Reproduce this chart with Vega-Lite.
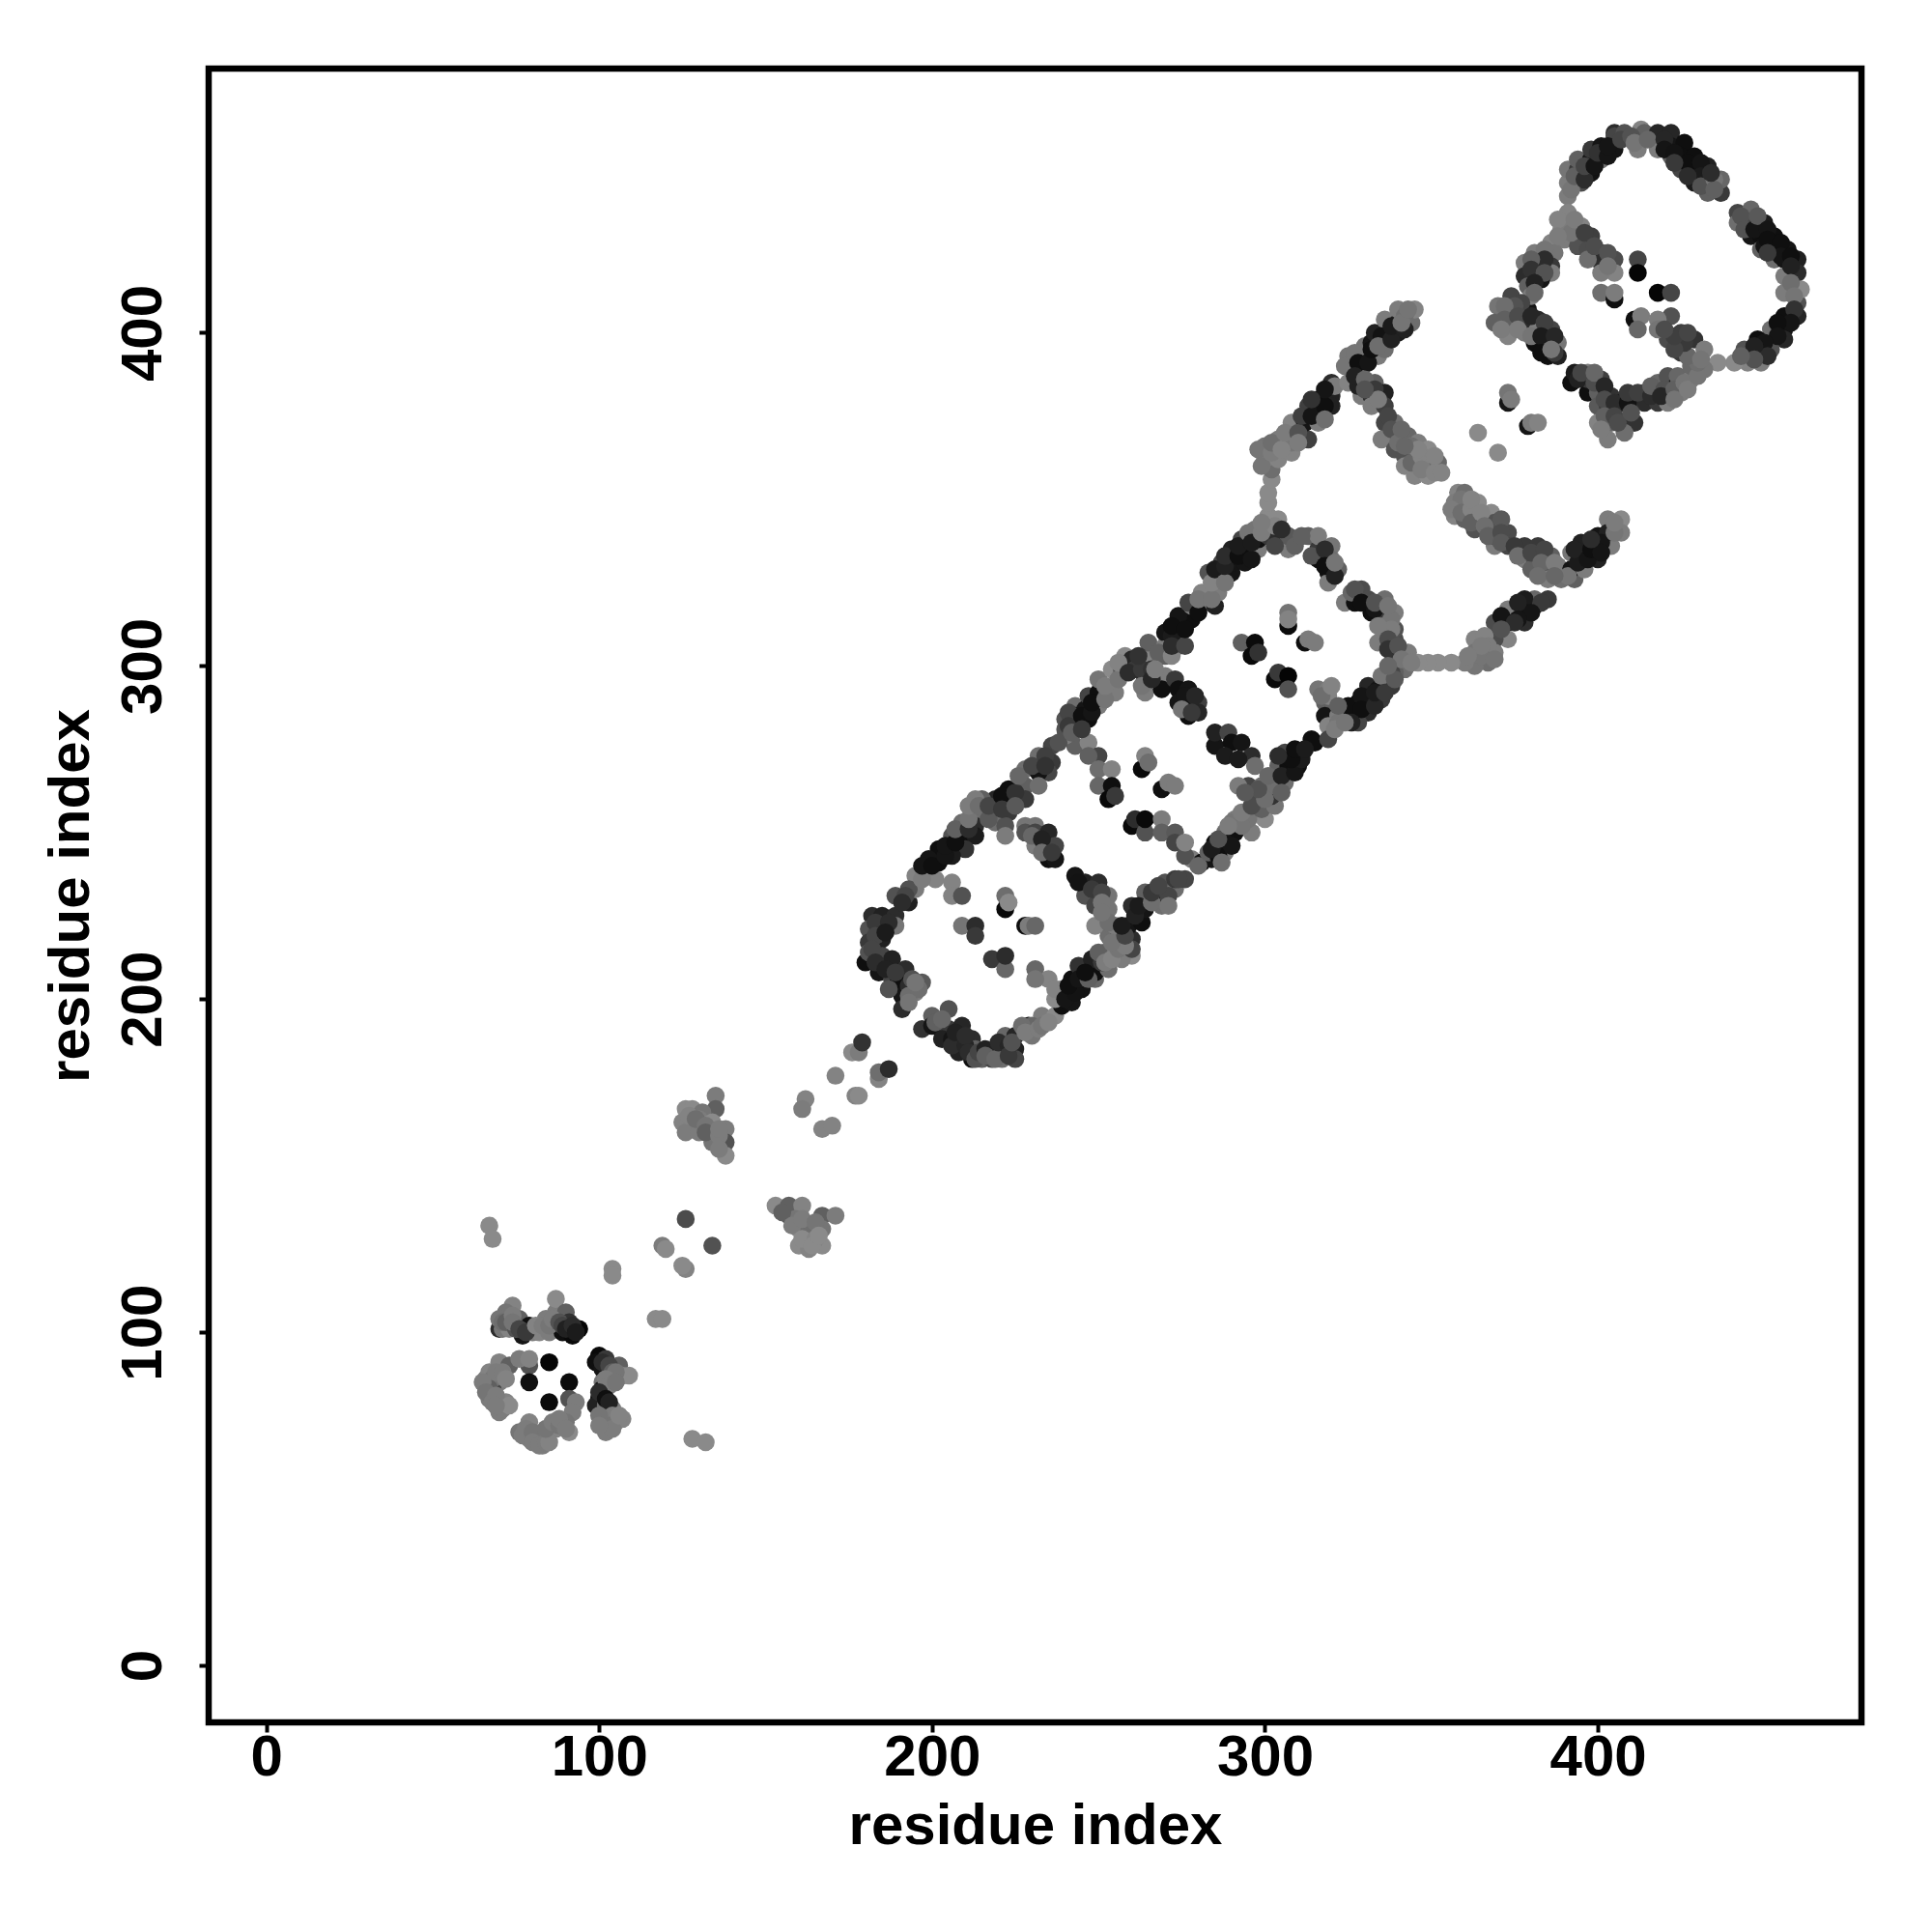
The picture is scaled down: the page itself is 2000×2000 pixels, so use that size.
{"$schema":"https://vega.github.io/schema/vega-lite/v6.json","autosize":"none","padding":{"left":216,"top":71,"right":73,"bottom":217},"width":1711,"height":1712,"background":"white","config":{"view":{"stroke":"black","strokeWidth":6.5},"font":"Liberation Sans"},
"data":{"values":[
{"i":67,"j":132,"s":1},{"i":68,"j":128,"s":1},{"i":135,"j":171,"s":0.9},{"i":135,"j":167,"s":0.7},{"i":126,"j":167,"s":1},{"i":128,"j":167,"s":1},{"i":131,"j":166,"s":0.85},{"i":125,"j":163,"s":0.95},{"i":126,"j":160,"s":0.9},{"i":130,"j":164,"s":0.9},{"i":130,"j":160,"s":0.9},{"i":134,"j":163,"s":1},{"i":134,"j":160,"s":0.85},{"i":138,"j":161,"s":0.9},{"i":134,"j":157,"s":0.85},{"i":138,"j":157,"s":0.6},{"i":138,"j":153,"s":1},
{"i":126,"j":134,"s":0.55},{"i":134,"j":126,"s":0.6},{"i":119,"j":126,"s":0.9},{"i":120,"j":125,"s":1},{"i":126,"j":119,"s":0.95},{"i":125,"j":120,"s":1},{"i":104,"j":119,"s":1},{"i":104,"j":117,"s":1},{"i":117,"j":104,"s":1},{"i":119,"j":104,"s":1},{"i":128,"j":68,"s":1},{"i":132,"j":67,"s":1},
{"i":153,"j":138,"s":1},{"i":157,"j":135,"s":0.65},{"i":157,"j":138,"s":0.7},{"i":161,"j":138,"s":0.95},{"i":159,"j":134,"s":0.85},{"i":167,"j":135,"s":0.7},{"i":171,"j":135,"s":0.9},{"i":160,"j":131,"s":1},{"i":163,"j":131,"s":0.8},{"i":167,"j":131,"s":0.85},{"i":160,"j":126,"s":1},{"i":163,"j":125,"s":0.95},{"i":167,"j":126,"s":1},
{"i":176,"j":184,"s":1},{"i":178,"j":184,"s":0.9},{"i":179,"j":187,"s":0.35},{"i":171,"j":177,"s":0.95},{"i":184,"j":176,"s":0.95},{"i":184,"j":178,"s":0.8},{"i":187,"j":179,"s":0.3},{"i":177,"j":171,"s":0.95},{"i":178,"j":171,"s":1},{"i":162,"j":170,"s":0.95},{"i":161,"j":167,"s":0.9},{"i":167,"j":161,"s":0.95},{"i":170,"j":162,"s":0.95},
{"i":74,"j":108,"s":0.95},{"i":72,"j":106,"s":0.85},{"i":70,"j":101,"s":0.3},{"i":70,"j":104,"s":0.85},{"i":71,"j":101,"s":0.85},{"i":73,"j":101,"s":0.95},{"i":76,"j":104,"s":0.7},{"i":77,"j":99,"s":0.1},{"i":79,"j":102,"s":0.05},{"i":80,"j":100,"s":0.9},{"i":82,"j":100,"s":0.95},{"i":84,"j":104,"s":0.9},{"i":85,"j":100,"s":0.9},{"i":87,"j":106,"s":0.9},{"i":87,"j":110,"s":1},{"i":89,"j":100,"s":0.05},{"i":90,"j":106,"s":0.7},{"i":91,"j":103,"s":0.35},{"i":92,"j":99,"s":0.02},{"i":94,"j":101,"s":0},
{"i":100,"j":93,"s":0.02},{"i":99,"j":91,"s":0.05},{"i":101,"j":89,"s":0.1},{"i":102,"j":92,"s":0.4},{"i":106,"j":90,"s":0.7},{"i":101,"j":85,"s":0.85},{"i":104,"j":86,"s":0.9},{"i":107,"j":87,"s":0.95},{"i":109,"j":87,"s":1},{"i":101,"j":83,"s":0.1},{"i":100,"j":80,"s":0.02},{"i":99,"j":78,"s":0.2},{"i":102,"j":78,"s":0.8},{"i":104,"j":77,"s":0.9},{"i":101,"j":73,"s":0.9},{"i":102,"j":70,"s":0.9},{"i":105,"j":73,"s":0.95},{"i":107,"j":74,"s":0.95},
{"i":70,"j":91,"s":0.95},{"i":73,"j":90,"s":0.7},{"i":66,"j":86,"s":0.9},{"i":66,"j":84,"s":0.9},{"i":70,"j":85,"s":0.9},{"i":68,"j":83,"s":0.5},{"i":67,"j":80,"s":0.9},{"i":70,"j":76,"s":0.9},{"i":72,"j":79,"s":0.95},{"i":79,"j":90,"s":0.6},{"i":76,"j":92,"s":0.9},{"i":79,"j":92,"s":0.95},{"i":79,"j":85,"s":0.05},{"i":85,"j":91,"s":0},{"i":91,"j":85,"s":0.03},{"i":85,"j":79,"s":0.03},{"i":91,"j":80,"s":0.6},{"i":93,"j":79,"s":0.9},{"i":92,"j":76,"s":0.9},
{"i":76,"j":70,"s":0.85},{"i":79,"j":73,"s":0.95},{"i":79,"j":68,"s":0.95},{"i":81,"j":67,"s":0.9},{"i":83,"j":66,"s":0.9},{"i":82,"j":69,"s":0.85},{"i":85,"j":70,"s":0.9},{"i":87,"j":71,"s":0.95},{"i":90,"j":73,"s":0.85},{"i":91,"j":70,"s":1},
{"i":182,"j":225,"s":0.3},{"i":185,"j":225,"s":0.2},{"i":189,"j":225,"s":0.3},{"i":189,"j":222,"s":0.85},{"i":181,"j":221,"s":0.6},{"i":185,"j":221,"s":0.05},{"i":185,"j":218,"s":0.2},{"i":181,"j":217,"s":0.4},{"i":180,"j":211,"s":0.05},{"i":181,"j":214,"s":0.6},{"i":185,"j":213,"s":0.5},{"i":188,"j":212,"s":0.2},{"i":184,"j":208,"s":0.1},{"i":192,"j":209,"s":0.3},{"i":188,"j":206,"s":0.5},{"i":190,"j":205,"s":0.05},{"i":191,"j":201,"s":0.1},{"i":197,"j":205,"s":0.65},{"i":195,"j":202,"s":0.9},{"i":191,"j":197,"s":0.3},
{"i":197,"j":191,"s":0.35},{"i":202,"j":192,"s":0.05},{"i":200,"j":195,"s":0.7},{"i":203,"j":191,"s":0.1},{"i":205,"j":197,"s":0.6},{"i":205,"j":191,"s":0.4},{"i":209,"j":192,"s":0.25},{"i":208,"j":186,"s":0.1},{"i":212,"j":188,"s":0.3},{"i":208,"j":184,"s":0.2},{"i":213,"j":185,"s":0.7},{"i":212,"j":182,"s":0.05},{"i":215,"j":182,"s":0.7},{"i":218,"j":184,"s":0.3},{"i":218,"j":182,"s":0.5},{"i":222,"j":189,"s":0.75},{"i":221,"j":184,"s":0.05},{"i":221,"j":182,"s":0.8},{"i":225,"j":189,"s":0.25},{"i":225,"j":185,"s":0.2},{"i":225,"j":182,"s":0.5},
{"i":229,"j":192,"s":0.05},{"i":230,"j":189,"s":0.85},{"i":233,"j":195,"s":0.9},{"i":237,"j":195,"s":1},{"i":230,"j":192,"s":0.75},{"i":239,"j":198,"s":0.05},{"i":242,"j":199,"s":0.1},{"i":237,"j":200,"s":1},{"i":239,"j":203,"s":0.9},{"i":242,"j":206,"s":0.05},{"i":245,"j":203,"s":0.08},{"i":249,"j":206,"s":0.75},{"i":244,"j":210,"s":0.35},{"i":249,"j":208,"s":0.05},{"i":248,"j":212,"s":0.2},{"i":253,"j":209,"s":0.8},{"i":252,"j":214,"s":0.6},{"i":255,"j":215,"s":0.9},{"i":260,"j":213,"s":1},{"i":257,"j":212,"s":0.9},{"i":253,"j":219,"s":0.8},{"i":256,"j":219,"s":0.6},{"i":260,"j":218,"s":0.3},{"i":260,"j":215,"s":0.5},{"i":255,"j":222,"s":0.9},{"i":259,"j":222,"s":0.1},{"i":263,"j":223,"s":0.05},{"i":260,"j":228,"s":0.3},{"i":264,"j":227,"s":0.1},{"i":264,"j":232,"s":0.7},{"i":269,"j":228,"s":0.8},{"i":269,"j":231,"s":0.1},{"i":270,"j":235,"s":0.6},{"i":273,"j":233,"s":0.8},{"i":273,"j":236,"s":0.4},{"i":276,"j":236,"s":0.5},
{"i":278,"j":242,"s":0.9},{"i":281,"j":241,"s":0.05},{"i":284,"j":242,"s":0.1},{"i":285,"j":247,"s":0.05},{"i":288,"j":244,"s":0.9},{"i":288,"j":250,"s":0.8},{"i":291,"j":250,"s":0.05},{"i":288,"j":247,"s":0.1},{"i":296,"j":250,"s":0.9},{"i":300,"j":254,"s":1},{"i":291,"j":254,"s":0.9},{"i":295,"j":254,"s":0.85},{"i":299,"j":257,"s":0.7},{"i":303,"j":258,"s":0.85},{"i":302,"j":261,"s":0.35},{"i":297,"j":261,"s":0.55},{"i":295,"j":264,"s":0.5},{"i":292,"j":264,"s":0.9},{"i":299,"j":264,"s":0.8},{"i":303,"j":264,"s":0.8},{"i":306,"j":265,"s":0.8},{"i":304,"j":270,"s":0.7},{"i":307,"j":270,"s":0.05},{"i":310,"j":270,"s":0.05},{"i":310,"j":274,"s":0.05},{"i":306,"j":274,"s":0.5},{"i":314,"j":278,"s":0.05},
{"i":285,"j":276,"s":0.1},{"i":285,"j":280,"s":0.2},{"i":289,"j":280,"s":0.5},{"i":290,"j":277,"s":0.05},{"i":293,"j":277,"s":0.1},{"i":288,"j":273,"s":0.15},{"i":296,"j":273,"s":0.3},{"i":292,"j":272,"s":0.15},{"i":297,"j":270,"s":0.8},
{"i":236,"j":271,"s":0.4},{"i":236,"j":276,"s":0.5},{"i":232,"j":273,"s":0.8},{"i":235,"j":268,"s":0.5},{"i":228,"j":269,"s":0.8},{"i":232,"j":268,"s":0.08},{"i":228,"j":264,"s":0.7},{"i":232,"j":264,"s":0.8},{"i":228,"j":260,"s":0.4},{"i":223,"j":259,"s":0.15},{"i":223,"j":263,"s":0.05},{"i":223,"j":256,"s":0.4},{"i":219,"j":260,"s":0.25},{"i":215,"j":260,"s":0.7},{"i":213,"j":260,"s":0.9},{"i":213,"j":256,"s":0.9},{"i":215,"j":256,"s":0.8},{"i":219,"j":256,"s":0.5},{"i":219,"j":253,"s":0.8},{"i":222,"j":252,"s":0.6},{"i":222,"j":249,"s":0.9},{"i":209,"j":253,"s":0.8},{"i":209,"j":249,"s":0.05},{"i":213,"j":252,"s":0.3},{"i":213,"j":249,"s":0.15},{"i":206,"j":249,"s":0.6},{"i":210,"j":245,"s":0.35},{"i":206,"j":243,"s":0.15},{"i":202,"j":245,"s":0.05},{"i":202,"j":241,"s":0.05},{"i":199,"j":242,"s":0.1},{"i":199,"j":238,"s":0.25},{"i":195,"j":237,"s":0.95},{"i":201,"j":236,"s":0.95},{"i":206,"j":235,"s":0.95},{"i":206,"j":231,"s":0.95},{"i":209,"j":231,"s":0.6},{"i":193,"j":229,"s":0.2},{"i":195,"j":233,"s":0.9},{"i":193,"j":233,"s":0.6},{"i":189,"j":231,"s":0.6},
{"i":228,"j":252,"s":0.85},{"i":231,"j":252,"s":0.85},{"i":228,"j":250,"s":0.6},{"i":231,"j":250,"s":0.5},{"i":235,"j":250,"s":0.25},{"i":231,"j":246,"s":0.9},{"i":235,"j":242,"s":0.05},{"i":237,"j":242,"s":0.1},{"i":237,"j":246,"s":0.5},
{"i":243,"j":237,"s":0.1},{"i":246,"j":235,"s":0.2},{"i":250,"j":235,"s":0.3},{"i":246,"j":231,"s":0.6},{"i":253,"j":231,"s":0.85},{"i":249,"j":228,"s":0.5},{"i":253,"j":227,"s":0.85},{"i":249,"j":222,"s":0.95},{"i":253,"j":223,"s":0.8},
{"i":222,"j":231,"s":0.8},{"i":222,"j":227,"s":0.02},{"i":223,"j":229,"s":1},{"i":228,"j":222,"s":0.05},{"i":229,"j":222,"s":0.9},{"i":231,"j":222,"s":0.75},{"i":209,"j":222,"s":0.85},{"i":213,"j":222,"s":0.3},{"i":213,"j":219,"s":0.4},{"i":218,"j":212,"s":0.4},{"i":222,"j":209,"s":0.75},{"i":222,"j":213,"s":0.3},{"i":231,"j":209,"s":0.75},{"i":235,"j":206,"s":0.95},{"i":231,"j":206,"s":0.85},{"i":237,"j":203,"s":0.95},
{"i":243,"j":276,"s":0.7},{"i":247,"j":277,"s":0.95},{"i":250,"j":273,"s":0.5},{"i":247,"j":273,"s":0.7},{"i":250,"j":269,"s":0.8},{"i":254,"j":269,"s":0.95},{"i":250,"j":264,"s":0.75},{"i":254,"j":264,"s":0.05},{"i":253,"j":260,"s":0.02},{"i":255,"j":261,"s":0.4},
{"i":263,"j":269,"s":0.02},{"i":264,"j":273,"s":0.95},{"i":265,"j":271,"s":0.8},{"i":269,"j":263,"s":0.05},{"i":271,"j":265,"s":0.9},{"i":273,"j":264,"s":0.9},{"i":260,"j":252,"s":0.02},{"i":261,"j":254,"s":0.3},{"i":264,"j":250,"s":0.6},{"i":264,"j":254,"s":0.02},{"i":269,"j":254,"s":0.9},{"i":269,"j":250,"s":0.7},{"i":273,"j":250,"s":0.65},{"i":273,"j":247,"s":0.5},{"i":276,"j":243,"s":0.6},{"i":276,"j":247,"s":0.95},
{"i":240,"j":279,"s":0.9},{"i":240,"j":284,"s":0.6},{"i":240,"j":281,"s":0.6},{"i":243,"j":288,"s":0.8},{"i":243,"j":285,"s":0.03},{"i":244,"j":282,"s":0.1},{"i":247,"j":284,"s":0.05},{"i":246,"j":287,"s":0.1},{"i":247,"j":291,"s":0.5},{"i":250,"j":288,"s":0.9},{"i":250,"j":292,"s":0.05},{"i":250,"j":296,"s":0.85},{"i":255,"j":292,"s":0.9},{"i":254,"j":299,"s":1},{"i":257,"j":299,"s":0.6},{"i":258,"j":303,"s":1},{"i":260,"j":302,"s":0.25},{"i":261,"j":299,"s":0.4},{"i":264,"j":296,"s":0.3},{"i":264,"j":292,"s":0.9},{"i":265,"j":302,"s":0.95},{"i":265,"j":307,"s":0.7},{"i":270,"j":297,"s":0.9},{"i":269,"j":293,"s":0.05},{"i":273,"j":296,"s":0.4},{"i":274,"j":293,"s":0.05},{"i":277,"j":293,"s":0.1},{"i":274,"j":289,"s":0.1},{"i":280,"j":289,"s":0.45},{"i":276,"j":288,"s":0.1},{"i":277,"j":285,"s":0.05},{"i":280,"j":286,"s":0.25},{"i":270,"j":306,"s":0.9},{"i":274,"j":307,"s":0.6},{"i":270,"j":310,"s":0.1},{"i":274,"j":310,"s":0.1},
{"i":274,"j":306,"s":0.6},{"i":270,"j":305,"s":0.9},{"i":270,"j":303,"s":0.7},{"i":278,"j":314,"s":0.05},{"i":274,"j":315,"s":0.1},{"i":278,"j":318,"s":0.9},{"i":277,"j":319,"s":0.5},{"i":282,"j":319,"s":0.95},{"i":281,"j":322,"s":0.95},{"i":285,"j":318,"s":0.2},{"i":286,"j":322,"s":0.9},{"i":283,"j":328,"s":0.6},{"i":287,"j":327,"s":0.15},{"i":290,"j":328,"s":0.1},{"i":287,"j":331,"s":0.5},{"i":290,"j":331,"s":0.1},{"i":294,"j":331,"s":0.1},{"i":290,"j":335,"s":0.2},{"i":294,"j":334,"s":0.05},{"i":293,"j":338,"s":0.5},{"i":298,"j":335,"s":0.9},{"i":298,"j":338,"s":0.05},{"i":297,"j":341,"s":0.85},{"i":300,"j":342,"s":0.95},{"i":304,"j":344,"s":1},{"i":301,"j":345,"s":1},{"i":301,"j":349,"s":1},{"i":301,"j":352,"s":1},{"i":302,"j":356,"s":1},{"i":302,"j":359,"s":0.8},{"i":300,"j":362,"s":0.9},{"i":300,"j":366,"s":0.85},{"i":304,"j":368,"s":0.9},{"i":304,"j":362,"s":0.95},{"i":308,"j":364,"s":0.95},{"i":308,"j":367,"s":0.85},{"i":308,"j":373,"s":0.95},{"i":313,"j":368,"s":0.45},{"i":313,"j":378,"s":0.45},{"i":312,"j":373,"s":0.1},{"i":316,"j":373,"s":0.9},{"i":316,"j":380,"s":0.05},{"i":316,"j":376,"s":0.15},{"i":320,"j":381,"s":0.2},{"i":320,"j":378,"s":0.2},{"i":320,"j":385,"s":0.3},{"i":321,"j":384,"s":0.9},
{"i":325,"j":385,"s":0.95},{"i":325,"j":393,"s":0.85},{"i":326,"j":389,"s":0.85},{"i":330,"j":393,"s":0.05},{"i":330,"j":396,"s":0.85},{"i":329,"j":389,"s":0.85},{"i":329,"j":381,"s":0.9},{"i":328,"j":384,"s":0.2},{"i":333,"j":385,"s":0.7},{"i":332,"j":397,"s":0.1},{"i":333,"j":400,"s":0.2},{"i":336,"j":399,"s":0.03},{"i":336,"j":404,"s":0.9},{"i":334,"j":393,"s":0.9},{"i":336,"j":395,"s":0.8},{"i":336,"j":382,"s":0.2},{"i":332,"j":381,"s":0.3},{"i":332,"j":378,"s":0.9},{"i":336,"j":378,"s":0.45},{"i":340,"j":400,"s":0.15},{"i":340,"j":403,"s":0.2},{"i":340,"j":407,"s":0.9},{"i":344,"j":403,"s":0.8},{"i":345,"j":407,"s":0.95},
{"i":336,"j":373,"s":0.5},{"i":335,"j":368,"s":0.9},{"i":339,"j":373,"s":0.8},{"i":339,"j":369,"s":0.9},{"i":343,"j":369,"s":0.75},{"i":346,"j":367,"s":0.9},{"i":339,"j":365,"s":0.6},{"i":342,"j":363,"s":0.6},{"i":342,"j":360,"s":0.95},{"i":345,"j":357,"s":0.95},{"i":349,"j":365,"s":1},{"i":349,"j":361,"s":0.95},{"i":349,"j":357,"s":1},{"i":352,"j":361,"s":0.75},
{"i":358,"j":352,"s":0.95},{"i":360,"j":352,"s":0.8},{"i":357,"j":349,"s":0.9},{"i":360,"j":348,"s":0.9},{"i":357,"j":345,"s":0.95},{"i":364,"j":349,"s":1},{"i":360,"j":344,"s":0.7},{"i":364,"j":344,"s":0.85},{"i":368,"j":346,"s":1},{"i":363,"j":341,"s":0.6},{"i":369,"j":343,"s":0.6},{"i":369,"j":336,"s":0.9},{"i":373,"j":340,"s":0.55},{"i":369,"j":339,"s":0.6},{"i":373,"j":336,"s":0.5},{"i":378,"j":336,"s":0.4},{"i":378,"j":332,"s":0.9},{"i":382,"j":336,"s":0.4},{"i":381,"j":332,"s":0.6},{"i":386,"j":333,"s":0.7},{"i":385,"j":329,"s":0.65},{"i":380,"j":329,"s":0.7},{"i":388,"j":330,"s":0.9},{"i":385,"j":326,"s":0.9},{"i":389,"j":326,"s":0.8},{"i":393,"j":326,"s":0.7},{"i":392,"j":329,"s":0.1},{"i":392,"j":334,"s":0.85},{"i":396,"j":329,"s":0.9},{"i":396,"j":334,"s":0.1},{"i":395,"j":337,"s":0.2},{"i":399,"j":336,"s":0.03},{"i":399,"j":334,"s":0.7},{"i":400,"j":339,"s":0.1},{"i":400,"j":332,"s":0.2},{"i":403,"j":344,"s":0.9},{"i":404,"j":336,"s":0.9},{"i":403,"j":340,"s":0.2},{"i":407,"j":344,"s":1},{"i":407,"j":340,"s":0.9},
{"i":381,"j":318,"s":0.05},{"i":381,"j":320,"s":0.75},{"i":385,"j":320,"s":0.4},{"i":378,"j":320,"s":0.15},{"i":378,"j":316,"s":0.1},{"i":375,"j":317,"s":0.1},{"i":373,"j":317,"s":0.9},{"i":378,"j":313,"s":0.3},{"i":373,"j":313,"s":0.05},{"i":369,"j":313,"s":0.55},{"i":373,"j":308,"s":0.95},{"i":369,"j":308,"s":0.55},{"i":363,"j":308,"s":0.95},{"i":366,"j":309,"s":0.95},{"i":369,"j":304,"s":0.9},{"i":363,"j":304,"s":0.85},{"i":367,"j":301,"s":0.8},{"i":363,"j":300,"s":0.85},{"i":360,"j":301,"s":0.9},{"i":356,"j":301,"s":1},{"i":352,"j":301,"s":1},{"i":349,"j":301,"s":1},{"i":346,"j":301,"s":1},{"i":343,"j":304,"s":0.9},{"i":342,"j":299,"s":0.8},{"i":339,"j":298,"s":0.7},{"i":339,"j":308,"s":0.55},{"i":339,"j":304,"s":0.4},{"i":339,"j":311,"s":0.6},{"i":334,"j":307,"s":0.9},
{"i":301,"j":339,"s":0.4},{"i":304,"j":339,"s":0.3},{"i":307,"j":335,"s":0.9},{"i":307,"j":339,"s":0.65},{"i":313,"j":339,"s":0.7},{"i":316,"j":332,"s":0.05},{"i":316,"j":335,"s":0.4},{"i":316,"j":339,"s":0.9},{"i":320,"j":336,"s":0.85},{"i":320,"j":332,"s":0.8},{"i":319,"j":328,"s":0.1},{"i":319,"j":325,"s":0.9},{"i":322,"j":329,"s":0.7},{"i":329,"j":323,"s":0.55},{"i":324,"j":319,"s":0.9},{"i":327,"j":319,"s":0.05},{"i":331,"j":320,"s":0.55},{"i":336,"j":320,"s":0.8},{"i":332,"j":316,"s":0.05},{"i":335,"j":316,"s":0.4},{"i":339,"j":316,"s":0.9},{"i":336,"j":312,"s":0.9},
{"i":307,"j":312,"s":0.03},{"i":307,"j":316,"s":0.85},{"i":307,"j":314,"s":0.95},{"i":293,"j":307,"s":0.7},{"i":296,"j":303,"s":0.02},{"i":297,"j":307,"s":0.03},{"i":298,"j":304,"s":0.35},{"i":312,"j":307,"s":0.05},{"i":313,"j":308,"s":0.9},{"i":315,"j":307,"s":0.9},{"i":303,"j":296,"s":0.03},{"i":304,"j":298,"s":0.4},{"i":307,"j":297,"s":0},{"i":307,"j":293,"s":0.6},
{"i":316,"j":293,"s":0.85},{"i":319,"j":293,"s":0.9},{"i":318,"j":289,"s":0.7},{"i":319,"j":291,"s":0.95},{"i":318,"j":285,"s":0.1},{"i":322,"j":285,"s":0.9},{"i":319,"j":282,"s":0.95},{"i":322,"j":283,"s":0.85},{"i":328,"j":289,"s":0.05},{"i":331,"j":294,"s":0.25},{"i":331,"j":290,"s":0.05},{"i":327,"j":286,"s":0.1},{"i":331,"j":286,"s":0.3},{"i":328,"j":283,"s":0.5},{"i":335,"j":290,"s":0.4},{"i":334,"j":293,"s":0.1},{"i":338,"j":294,"s":0.4},{"i":338,"j":298,"s":0.5},{"i":335,"j":297,"s":0.85},{"i":315,"j":277,"s":0.05},{"i":319,"j":278,"s":0.5},
{"i":391,"j":441,"s":0.9},{"i":391,"j":445,"s":0.9},{"i":391,"j":449,"s":0.85},{"i":395,"j":445,"s":0.55},{"i":394,"j":449,"s":0.4},{"i":394,"j":452,"s":0.7},{"i":398,"j":448,"s":0.08},{"i":398,"j":452,"s":0.1},{"i":401,"j":452,"s":0.8},{"i":398,"j":455,"s":0.4},{"i":401,"j":456,"s":0.1},{"i":405,"j":455,"s":0.1},{"i":405,"j":460,"s":0.3},{"i":405,"j":459,"s":0.5},{"i":408,"j":460,"s":0.6},{"i":412,"j":455,"s":0.9},{"i":413,"j":461,"s":0.95},{"i":414,"j":460,"s":0.7},{"i":418,"j":460,"s":0.25},{"i":418,"j":455,"s":0.9},{"i":422,"j":460,"s":0.25},{"i":422,"j":456,"s":0.1},{"i":426,"j":457,"s":0.05},{"i":422,"j":453,"s":0.7},{"i":425,"j":453,"s":0.05},{"i":429,"j":453,"s":0.05},{"i":425,"j":449,"s":0.5},{"i":429,"j":449,"s":0.1},{"i":433,"j":450,"s":0.2},{"i":429,"j":445,"s":0.15},{"i":433,"j":445,"s":0.85},{"i":433,"j":442,"s":0.7},{"i":437,"j":442,"s":0.4},{"i":437,"j":446,"s":0.75},
{"i":442,"j":436,"s":0.5},{"i":442,"j":433,"s":0.8},{"i":446,"j":437,"s":0.75},{"i":446,"j":433,"s":0.5},{"i":446,"j":429,"s":0.1},{"i":450,"j":433,"s":0.15},{"i":449,"j":429,"s":0.05},{"i":449,"j":425,"s":0.7},{"i":450,"j":426,"s":0.1},{"i":453,"j":429,"s":0.05},{"i":453,"j":425,"s":0.05},{"i":453,"j":422,"s":0.8},{"i":457,"j":425,"s":0.1},{"i":456,"j":422,"s":0.1},{"i":460,"j":422,"s":0.2},{"i":456,"j":417,"s":0.9},{"i":460,"j":418,"s":0.3},{"i":456,"j":412,"s":0.9},{"i":460,"j":409,"s":0.6},{"i":461,"j":413,"s":1},{"i":460,"j":405,"s":0.25},{"i":456,"j":405,"s":0.05},{"i":456,"j":401,"s":0.1},{"i":452,"j":401,"s":0.8},{"i":456,"j":398,"s":0.25},{"i":452,"j":395,"s":0.6},{"i":448,"j":398,"s":0.05},{"i":449,"j":394,"s":0.2},{"i":444,"j":395,"s":0.6},{"i":449,"j":391,"s":0.9},{"i":445,"j":391,"s":0.95},{"i":441,"j":391,"s":1},{"i":436,"j":391,"s":1},
{"i":391,"j":436,"s":0.95},{"i":389,"j":431,"s":0.95},{"i":390,"j":432,"s":0.9},{"i":395,"j":432,"s":0.95},{"i":398,"j":429,"s":0.45},{"i":386,"j":427,"s":0.95},{"i":390,"j":428,"s":0.9},{"i":394,"j":426,"s":0.6},{"i":397,"j":425,"s":0.55},{"i":401,"j":424,"s":0.5},{"i":405,"j":422,"s":0.55},{"i":400,"j":422,"s":0.3},{"i":397,"j":422,"s":0.8},{"i":405,"j":418,"s":0.95},{"i":401,"j":418,"s":0.9},{"i":401,"j":412,"s":0.8},{"i":405,"j":410,"s":0.05},{"i":405,"j":412,"s":0.9},
{"i":381,"j":424,"s":0.9},{"i":387,"j":424,"s":0.85},{"i":386,"j":420,"s":0.4},{"i":378,"j":421,"s":0.9},{"i":386,"j":418,"s":0.9},{"i":382,"j":420,"s":0.8},{"i":378,"j":417,"s":0.3},{"i":383,"j":416,"s":0.1},{"i":379,"j":414,"s":0.7},{"i":379,"j":407,"s":0.1},{"i":380,"j":411,"s":0.9},{"i":374,"j":411,"s":0.5},{"i":370,"j":408,"s":0.85},{"i":369,"j":403,"s":0.7},{"i":374,"j":406,"s":0.4},{"i":374,"j":403,"s":0.9},{"i":373,"j":399,"s":0.95},{"i":378,"j":400,"s":0.9},{"i":378,"j":404,"s":0.3},{"i":382,"j":404,"s":0.3},{"i":382,"j":401,"s":0.9},{"i":386,"j":401,"s":0.5},{"i":381,"j":397,"s":0.05},{"i":385,"j":397,"s":0.5},{"i":385,"j":393,"s":0.05},{"i":388,"j":393,"s":0.2},{"i":388,"j":397,"s":0.85},
{"i":392,"j":385,"s":0.05},{"i":393,"j":388,"s":0.15},{"i":397,"j":382,"s":0.05},{"i":397,"j":388,"s":0.9},{"i":397,"j":386,"s":0.4},{"i":401,"j":386,"s":0.45},{"i":400,"j":382,"s":0.7},{"i":404,"j":381,"s":0.35},{"i":400,"j":378,"s":0.65},{"i":403,"j":378,"s":0.4},{"i":407,"j":379,"s":0.1},{"i":411,"j":379,"s":0.1},{"i":408,"j":373,"s":0.5},{"i":411,"j":373,"s":0.35},{"i":404,"j":373,"s":0.75},{"i":400,"j":373,"s":0.95},{"i":403,"j":368,"s":0.9},{"i":408,"j":370,"s":0.8},{"i":414,"j":382,"s":0.55},{"i":414,"j":379,"s":0.3},{"i":418,"j":382,"s":0.05},{"i":418,"j":385,"s":0.75},{"i":418,"j":379,"s":0.4},{"i":421,"j":387,"s":0.6},{"i":421,"j":379,"s":0.9},{"i":424,"j":385,"s":0.1},{"i":424,"j":387,"s":0.75},{"i":425,"j":382,"s":0.9},{"i":428,"j":386,"s":0.9},{"i":428,"j":390,"s":0.75},{"i":432,"j":389,"s":0.85},{"i":425,"j":394,"s":0.4},{"i":429,"j":398,"s":0.35},{"i":432,"j":395,"s":0.9},{"i":425,"j":400,"s":0.45},{"i":421,"j":398,"s":0.55},{"i":422,"j":405,"s":0.6},{"i":418,"j":404,"s":0.9},{"i":418,"j":401,"s":0.85},
{"i":412,"j":422,"s":0.5},{"i":412,"j":418,"s":0},{"i":418,"j":412,"s":0},{"i":422,"j":412,"s":0.5},{"i":411,"j":404,"s":0.05},{"i":413,"j":405,"s":0.9},{"i":412,"j":401,"s":0.75},
{"i":373,"j":379,"s":0.1},{"i":373,"j":382,"s":0.85},{"i":374,"j":380,"s":0.9},{"i":379,"j":372,"s":0.1},{"i":380,"j":373,"s":0.9},{"i":382,"j":373,"s":0.95},{"i":364,"j":370,"s":1},{"i":370,"j":364,"s":1},
{"i":71,"j":103,"s":0.8},{"i":72,"j":103,"s":0.7},{"i":74,"j":105,"s":0.9},{"i":75,"j":101,"s":0.6},{"i":74,"j":103,"s":0.85},{"i":76,"j":101,"s":0.5},{"i":78,"j":100,"s":0.4},{"i":81,"j":102,"s":0.95},{"i":83,"j":102,"s":0.9},{"i":85,"j":102,"s":0.85},{"i":86,"j":104,"s":0.9},{"i":88,"j":103,"s":0.6},{"i":89,"j":102,"s":0.5},{"i":90,"j":101,"s":0.2},{"i":92,"j":102,"s":0.3},{"i":93,"j":100,"s":0.15},
{"i":101,"j":91,"s":0.3},{"i":103,"j":90,"s":0.5},{"i":104,"j":88,"s":0.7},{"i":105,"j":88,"s":0.85},{"i":102,"j":86,"s":0.9},{"i":103,"j":84,"s":0.9},{"i":105,"j":85,"s":0.85},{"i":100,"j":82,"s":0.3},{"i":102,"j":80,"s":0.05},{"i":103,"j":79,"s":0.2},{"i":104,"j":75,"s":0.9},{"i":103,"j":72,"s":0.85},{"i":104,"j":71,"s":0.9},{"i":100,"j":75,"s":0.85},{"i":100,"j":72,"s":0.9},{"i":106,"j":75,"s":0.95},
{"i":67,"j":88,"s":0.95},{"i":68,"j":86,"s":0.85},{"i":69,"j":88,"s":0.9},{"i":71,"j":88,"s":0.9},{"i":72,"j":86,"s":0.95},{"i":67,"j":83,"s":0.7},{"i":65,"j":85,"s":0.9},{"i":66,"j":82,"s":0.85},{"i":68,"j":79,"s":0.9},{"i":69,"j":81,"s":0.9},{"i":71,"j":77,"s":0.9},{"i":73,"j":78,"s":1},{"i":69,"j":78,"s":0.9},
{"i":77,"j":69,"s":0.9},{"i":78,"j":71,"s":0.9},{"i":80,"j":70,"s":0.85},{"i":80,"j":67,"s":0.9},{"i":82,"j":66,"s":0.9},{"i":84,"j":67,"s":0.9},{"i":85,"j":67,"s":0.95},{"i":84,"j":71,"s":0.85},{"i":86,"j":73,"s":0.9},{"i":88,"j":72,"s":0.85},{"i":88,"j":74,"s":0.9},{"i":90,"j":71,"s":0.9},
{"i":127,"j":165,"s":0.95},{"i":129,"j":164,"s":0.8},{"i":132,"j":162,"s":0.85},{"i":132,"j":160,"s":0.7},{"i":136,"j":159,"s":0.9},{"i":136,"j":161,"s":0.9},{"i":136,"j":155,"s":0.9},{"i":155,"j":136,"s":0.7},{"i":158,"j":132,"s":0.9},{"i":161,"j":134,"s":0.9},{"i":161,"j":128,"s":1},{"i":165,"j":133,"s":0.85},{"i":165,"j":128,"s":0.95},{"i":164,"j":126,"s":1},{"i":166,"j":129,"s":1},
{"i":183,"j":223,"s":0.4},{"i":187,"j":223,"s":0.3},{"i":183,"j":219,"s":0.5},{"i":186,"j":220,"s":0.15},{"i":182,"j":215,"s":0.5},{"i":183,"j":211,"s":0.3},{"i":186,"j":209,"s":0.2},{"i":189,"j":208,"s":0.4},{"i":187,"j":203,"s":0.6},{"i":193,"j":204,"s":0.3},{"i":193,"j":201,"s":0.8},{"i":194,"j":206,"s":0.6},{"i":196,"j":203,"s":0.8},{"i":193,"j":199,"s":0.85},{"i":195,"j":205,"s":0.85},
{"i":200,"j":192,"s":0.1},{"i":201,"j":193,"s":0.7},{"i":203,"j":194,"s":0.75},{"i":203,"j":188,"s":0.2},{"i":206,"j":188,"s":0.1},{"i":206,"j":186,"s":0.3},{"i":207,"j":190,"s":0.2},{"i":210,"j":186,"s":0.25},{"i":210,"j":189,"s":0.3},{"i":211,"j":184,"s":0.3},{"i":213,"j":182,"s":0.6},{"i":214,"j":184,"s":0.5},{"i":216,"j":185,"s":0.2},{"i":216,"j":183,"s":0.7},{"i":219,"j":182,"s":0.75},{"i":220,"j":187,"s":0.3},{"i":223,"j":186,"s":0.25},{"i":223,"j":183,"s":0.4},{"i":224,"j":187,"s":0.6},{"i":227,"j":192,"s":0.8},{"i":228,"j":190,"s":0.9},{"i":232,"j":191,"s":0.9},{"i":233,"j":192,"s":0.85},{"i":235,"j":193,"s":0.95},
{"i":240,"j":200,"s":0.1},{"i":243,"j":202,"s":0.08},{"i":241,"j":204,"s":0.05},{"i":244,"j":206,"s":0.1},{"i":247,"j":206,"s":0.7},{"i":246,"j":208,"s":0.05},{"i":251,"j":211,"s":0.4},{"i":250,"j":214,"s":0.7},{"i":252,"j":211,"s":0.9},{"i":254,"j":212,"s":0.95},{"i":256,"j":215,"s":0.85},{"i":258,"j":216,"s":0.9},{"i":254,"j":217,"s":0.85},{"i":258,"j":219,"s":0.5},{"i":257,"j":222,"s":0.15},{"i":261,"j":225,"s":0.2},{"i":262,"j":228,"s":0.15},{"i":266,"j":229,"s":0.8},{"i":266,"j":232,"s":0.4},{"i":271,"j":231,"s":0.5},{"i":271,"j":228,"s":0.85},{"i":274,"j":236,"s":0.5},{"i":268,"j":234,"s":0.5},
{"i":280,"j":240,"s":0.75},{"i":283,"j":244,"s":0.7},{"i":286,"j":243,"s":0.05},{"i":284,"j":245,"s":0.15},{"i":287,"j":241,"s":0.8},{"i":290,"j":246,"s":0.1},{"i":286,"j":248,"s":0.6},{"i":290,"j":253,"s":0.85},{"i":293,"j":252,"s":0.85},{"i":289,"j":252,"s":0.9},{"i":293,"j":256,"s":0.9},{"i":296,"j":258,"s":0.55},{"i":300,"j":260,"s":0.8},{"i":298,"j":263,"s":0.6},{"i":294,"j":262,"s":0.65},{"i":301,"j":267,"s":0.75},{"i":305,"j":267,"s":0.2},{"i":305,"j":262,"s":0.7},{"i":309,"j":268,"s":0.1},{"i":311,"j":272,"s":0.15},{"i":308,"j":272,"s":0.05},{"i":304,"j":273,"s":0.3},{"i":309,"j":275,"s":0.05},{"i":312,"j":275,"s":0.15},
{"i":192,"j":231,"s":0.5},{"i":191,"j":229,"s":0.3},{"i":197,"j":236,"s":0.9},{"i":197,"j":240,"s":0.1},{"i":200,"j":240,"s":0.05},{"i":204,"j":243,"s":0.1},{"i":204,"j":246,"s":0.1},{"i":207,"j":247,"s":0.05},{"i":207,"j":251,"s":0.7},{"i":211,"j":251,"s":0.3},{"i":211,"j":254,"s":0.85},{"i":211,"j":258,"s":0.9},{"i":214,"j":258,"s":0.8},{"i":217,"j":254,"s":0.65},{"i":217,"j":258,"s":0.5},{"i":221,"j":261,"s":0.05},{"i":221,"j":257,"s":0.4},{"i":225,"j":262,"s":0.35},{"i":225,"j":258,"s":0.65},{"i":226,"j":267,"s":0.75},{"i":230,"j":270,"s":0.5},{"i":234,"j":273,"s":0.45},{"i":234,"j":270,"s":0.35},{"i":238,"j":277,"s":0.6},
{"i":230,"j":249,"s":0.75},{"i":233,"j":248,"s":0.2},{"i":233,"j":244,"s":0.8},{"i":236,"j":244,"s":0.4},{"i":244,"j":235,"s":0.08},{"i":248,"j":233,"s":0.4},{"i":251,"j":232,"s":0.5},{"i":251,"j":229,"s":0.85},{"i":251,"j":226,"s":0.85},
{"i":241,"j":286,"s":0.5},{"i":241,"j":282,"s":0.4},{"i":242,"j":280,"s":0.7},{"i":245,"j":285,"s":0.05},{"i":245,"j":281,"s":0.4},{"i":248,"j":286,"s":0.1},{"i":248,"j":289,"s":0.05},{"i":252,"j":290,"s":0.85},{"i":252,"j":294,"s":0.9},{"i":256,"j":296,"s":0.85},{"i":256,"j":301,"s":0.95},{"i":259,"j":298,"s":0.3},{"i":263,"j":299,"s":0.4},{"i":262,"j":303,"s":0.35},{"i":263,"j":294,"s":0.85},{"i":266,"j":299,"s":0.35},{"i":266,"j":296,"s":0.25},{"i":268,"j":304,"s":0.7},{"i":267,"j":299,"s":0.9},{"i":272,"j":303,"s":0.95},{"i":272,"j":309,"s":0.15},{"i":272,"j":306,"s":0.3},{"i":276,"j":306,"s":0.5},{"i":276,"j":291,"s":0.1},{"i":279,"j":291,"s":0.25},{"i":275,"j":287,"s":0.85},{"i":278,"j":286,"s":0.4},
{"i":272,"j":312,"s":0.05},{"i":276,"j":311,"s":0.05},{"i":280,"j":316,"s":0.05},{"i":280,"j":320,"s":0.85},{"i":284,"j":320,"s":0.85},{"i":284,"j":325,"s":0.95},{"i":285,"j":329,"s":0.15},{"i":288,"j":325,"s":0.85},{"i":288,"j":330,"s":0.2},{"i":288,"j":333,"s":0.3},{"i":292,"j":333,"s":0.05},{"i":292,"j":336,"s":0.15},{"i":296,"j":332,"s":0.1},{"i":295,"j":340,"s":0.85},{"i":296,"j":337,"s":0.15},{"i":299,"j":340,"s":0.9},
{"i":303,"j":342,"s":0.95},{"i":299,"j":343,"s":0.9},{"i":298,"j":365,"s":0.85},{"i":299,"j":360,"s":0.85},{"i":302,"j":364,"s":0.9},{"i":302,"j":367,"s":0.8},{"i":305,"j":365,"s":0.95},{"i":306,"j":370,"s":0.9},{"i":310,"j":370,"s":0.6},{"i":310,"j":367,"s":0.9},{"i":311,"j":375,"s":0.45},{"i":314,"j":375,"s":0.1},{"i":318,"j":378,"s":0.05},{"i":318,"j":383,"s":0.1},{"i":314,"j":380,"s":0.35},{"i":318,"j":374,"s":0.8},
{"i":324,"j":390,"s":0.85},{"i":327,"j":394,"s":0.85},{"i":328,"j":391,"s":0.05},{"i":331,"j":391,"s":0.1},{"i":332,"j":395,"s":0.05},{"i":335,"j":399,"s":0.08},{"i":334,"j":396,"s":0.8},{"i":338,"j":398,"s":0.2},{"i":338,"j":402,"s":0.15},{"i":342,"j":401,"s":0.2},{"i":342,"j":405,"s":0.8},{"i":341,"j":403,"s":0.85},{"i":343,"j":407,"s":0.85},{"i":327,"j":387,"s":0.2},{"i":330,"j":386,"s":0.75},{"i":333,"j":383,"s":0.4},{"i":334,"j":380,"s":0.9},{"i":330,"j":383,"s":0.6},{"i":337,"j":375,"s":0.5},
{"i":338,"j":371,"s":0.6},{"i":340,"j":367,"s":0.8},{"i":341,"j":371,"s":0.75},{"i":344,"j":366,"s":0.8},{"i":344,"j":361,"s":0.75},{"i":347,"j":363,"s":0.95},{"i":347,"j":359,"s":0.9},{"i":351,"j":363,"s":0.95},{"i":351,"j":358,"s":0.95},{"i":346,"j":365,"s":0.95},{"i":342,"j":366,"s":0.75},{"i":353,"j":358,"s":0.95},
{"i":359,"j":350,"s":0.85},{"i":356,"j":347,"s":0.9},{"i":359,"j":346,"s":0.8},{"i":362,"j":347,"s":0.95},{"i":362,"j":350,"s":0.95},{"i":362,"j":343,"s":0.7},{"i":365,"j":346,"s":0.95},{"i":366,"j":342,"s":0.8},{"i":367,"j":339,"s":0.7},{"i":371,"j":344,"s":0.65},{"i":371,"j":340,"s":0.55},{"i":371,"j":337,"s":0.65},{"i":375,"j":336,"s":0.4},{"i":376,"j":333,"s":0.8},{"i":380,"j":334,"s":0.5},{"i":384,"j":335,"s":0.5},{"i":383,"j":331,"s":0.75},{"i":382,"j":327,"s":0.8},{"i":387,"j":331,"s":0.9},{"i":391,"j":327,"s":0.85},{"i":387,"j":327,"s":0.75},{"i":394,"j":331,"s":0.15},{"i":393,"j":335,"s":0.2},{"i":397,"j":332,"s":0.1},{"i":398,"j":335,"s":0.05},{"i":401,"j":337,"s":0.1},{"i":401,"j":334,"s":0.1},{"i":398,"j":338,"s":0.3},{"i":405,"j":340,"s":0.85},{"i":405,"j":343,"s":0.9},
{"i":383,"j":319,"s":0.4},{"i":380,"j":316,"s":0.1},{"i":376,"j":319,"s":0.2},{"i":376,"j":314,"s":0.1},{"i":371,"j":315,"s":0.1},{"i":375,"j":313,"s":0.3},{"i":371,"j":311,"s":0.6},{"i":367,"j":306,"s":0.9},{"i":365,"j":303,"s":0.85},{"i":365,"j":306,"s":0.9},{"i":361,"j":303,"s":0.9},{"i":369,"j":302,"s":0.85},
{"i":303,"j":336,"s":0.5},{"i":309,"j":336,"s":0.7},{"i":305,"j":341,"s":0.3},{"i":311,"j":339,"s":0.7},{"i":314,"j":333,"s":0.6},{"i":318,"j":335,"s":0.3},{"i":318,"j":330,"s":0.05},{"i":321,"j":327,"s":0.2},{"i":321,"j":331,"s":0.85},{"i":326,"j":322,"s":0.75},{"i":327,"j":323,"s":0.6},{"i":329,"j":319,"s":0.05},{"i":333,"j":317,"s":0.1},{"i":333,"j":319,"s":0.6},{"i":338,"j":314,"s":0.85},{"i":337,"j":318,"s":0.85},{"i":338,"j":311,"s":0.9},{"i":334,"j":312,"s":0.9},{"i":337,"j":308,"s":0.55},{"i":337,"j":305,"s":0.35},{"i":340,"j":306,"s":0.6},{"i":341,"j":302,"s":0.85},{"i":344,"j":301,"s":0.9},
{"i":325,"j":288,"s":0.05},{"i":329,"j":291,"s":0.1},{"i":329,"j":287,"s":0.05},{"i":333,"j":288,"s":0.25},{"i":333,"j":292,"s":0.15},{"i":326,"j":283,"s":0.2},{"i":322,"j":288,"s":0.7},{"i":321,"j":281,"s":0.9},{"i":324,"j":283,"s":0.85},{"i":336,"j":292,"s":0.4},{"i":339,"j":296,"s":0.65},{"i":337,"j":300,"s":0.75},{"i":317,"j":291,"s":0.8},{"i":320,"j":294,"s":0.95},
{"i":392,"j":443,"s":0.85},{"i":393,"j":447,"s":0.7},{"i":396,"j":446,"s":0.3},{"i":396,"j":450,"s":0.5},{"i":399,"j":450,"s":0.1},{"i":400,"j":454,"s":0.35},{"i":403,"j":453,"s":0.1},{"i":403,"j":456,"s":0.1},{"i":407,"j":458,"s":0.5},{"i":410,"j":459,"s":0.6},{"i":411,"j":457,"s":0.85},{"i":415,"j":458,"s":0.75},{"i":420,"j":458,"s":0.25},{"i":420,"j":455,"s":0.1},{"i":423,"j":454,"s":0.08},{"i":427,"j":451,"s":0.05},{"i":423,"j":451,"s":0.4},{"i":431,"j":451,"s":0.1},{"i":431,"j":447,"s":0.15},{"i":427,"j":447,"s":0.3},{"i":431,"j":444,"s":0.6},{"i":435,"j":446,"s":0.85},{"i":435,"j":443,"s":0.7},{"i":434,"j":448,"s":0.3},
{"i":443,"j":435,"s":0.6},{"i":444,"j":431,"s":0.6},{"i":447,"j":431,"s":0.1},{"i":448,"j":435,"s":0.65},{"i":451,"j":431,"s":0.1},{"i":451,"j":428,"s":0.05},{"i":455,"j":427,"s":0.05},{"i":455,"j":423,"s":0.1},{"i":458,"j":423,"s":0.05},{"i":451,"j":424,"s":0.4},{"i":458,"j":420,"s":0.2},{"i":458,"j":415,"s":0.8},{"i":459,"j":411,"s":0.85},{"i":459,"j":407,"s":0.35},{"i":458,"j":403,"s":0.1},{"i":454,"j":403,"s":0.05},{"i":454,"j":399,"s":0.1},{"i":450,"j":397,"s":0.1},{"i":451,"j":393,"s":0.3},{"i":447,"j":396,"s":0.2},{"i":447,"j":392,"s":0.6},{"i":443,"j":393,"s":0.7},
{"i":388,"j":434,"s":0.95},{"i":392,"j":430,"s":0.85},{"i":393,"j":434,"s":0.9},{"i":396,"j":430,"s":0.45},{"i":399,"j":426,"s":0.55},{"i":403,"j":424,"s":0.6},{"i":403,"j":420,"s":0.85},{"i":388,"j":429,"s":0.9},{"i":384,"j":425,"s":0.85},{"i":384,"j":422,"s":0.3},{"i":380,"j":422,"s":0.7},{"i":380,"j":419,"s":0.35},{"i":384,"j":418,"s":0.6},{"i":381,"j":415,"s":0.2},{"i":381,"j":412,"s":0.75},{"i":377,"j":409,"s":0.5},{"i":375,"j":408,"s":0.6},{"i":372,"j":408,"s":0.8},{"i":372,"j":404,"s":0.7},{"i":371,"j":401,"s":0.9},{"i":376,"j":405,"s":0.55},{"i":376,"j":401,"s":0.9},{"i":380,"j":405,"s":0.25},{"i":380,"j":399,"s":0.85},{"i":384,"j":403,"s":0.45},{"i":383,"j":399,"s":0.15},{"i":387,"j":399,"s":0.25},{"i":383,"j":394,"s":0.05},{"i":387,"j":394,"s":0.4},{"i":386,"j":395,"s":0.85},
{"i":394,"j":386,"s":0.2},{"i":395,"j":388,"s":0.5},{"i":399,"j":385,"s":0.55},{"i":399,"j":388,"s":0.75},{"i":402,"j":384,"s":0.25},{"i":402,"j":380,"s":0.55},{"i":405,"j":379,"s":0.3},{"i":409,"j":379,"s":0.08},{"i":409,"j":382,"s":0.4},{"i":412,"j":382,"s":0.45},{"i":402,"j":375,"s":0.7},{"i":405,"j":375,"s":0.5},{"i":406,"j":373,"s":0.55},{"i":401,"j":371,"s":0.9},{"i":410,"j":376,"s":0.6},{"i":416,"j":381,"s":0.3},{"i":416,"j":384,"s":0.7},{"i":420,"j":383,"s":0.6},{"i":419,"j":381,"s":0.25},{"i":423,"j":383,"s":0.7},{"i":423,"j":380,"s":0.85},{"i":426,"j":385,"s":0.85},{"i":427,"j":383,"s":0.9},{"i":430,"j":387,"s":0.85},{"i":430,"j":391,"s":0.8},{"i":427,"j":393,"s":0.75},{"i":426,"j":397,"s":0.4},{"i":423,"j":395,"s":0.5},{"i":423,"j":399,"s":0.45},{"i":420,"j":401,"s":0.55},{"i":427,"j":400,"s":0.5},{"i":431,"j":392,"s":0.85}
]},
"mark":{"type":"point","filled":true,"opacity":1,"size":345,"clip":false},
"encoding":{
"x":{"field":"i","type":"quantitative","scale":{"domain":[-17.3,479.2],"nice":false,"zero":false},"axis":{"title":"residue index","values":[0,100,200,300,400],"grid":false,"domain":false,"tickColor":"black","tickWidth":4,"tickSize":10,"labelFont":"Liberation Sans","labelFontWeight":"bold","labelFontSize":60,"labelColor":"black","labelPadding":-3,"titleFont":"Liberation Sans","titleFontWeight":"bold","titleFontSize":60,"titleColor":"black","titlePadding":12}},
"y":{"field":"j","type":"quantitative","scale":{"domain":[-17.1,479.3],"nice":false,"zero":false},"axis":{"title":"residue index","values":[0,100,200,300,400],"grid":false,"domain":false,"tickColor":"black","tickWidth":4,"tickSize":10,"labelAngle":270,"labelAlign":"center","labelBaseline":"bottom","labelFont":"Liberation Sans","labelFontWeight":"bold","labelFontSize":60,"labelColor":"black","labelPadding":27,"titleFont":"Liberation Sans","titleFontWeight":"bold","titleFontSize":60,"titleColor":"black","titlePadding":14}},
"color":{"field":"s","type":"quantitative","legend":null,"scale":{"domain":[0,1],"range":["#050505","#8a8a8a"]}}
}}
